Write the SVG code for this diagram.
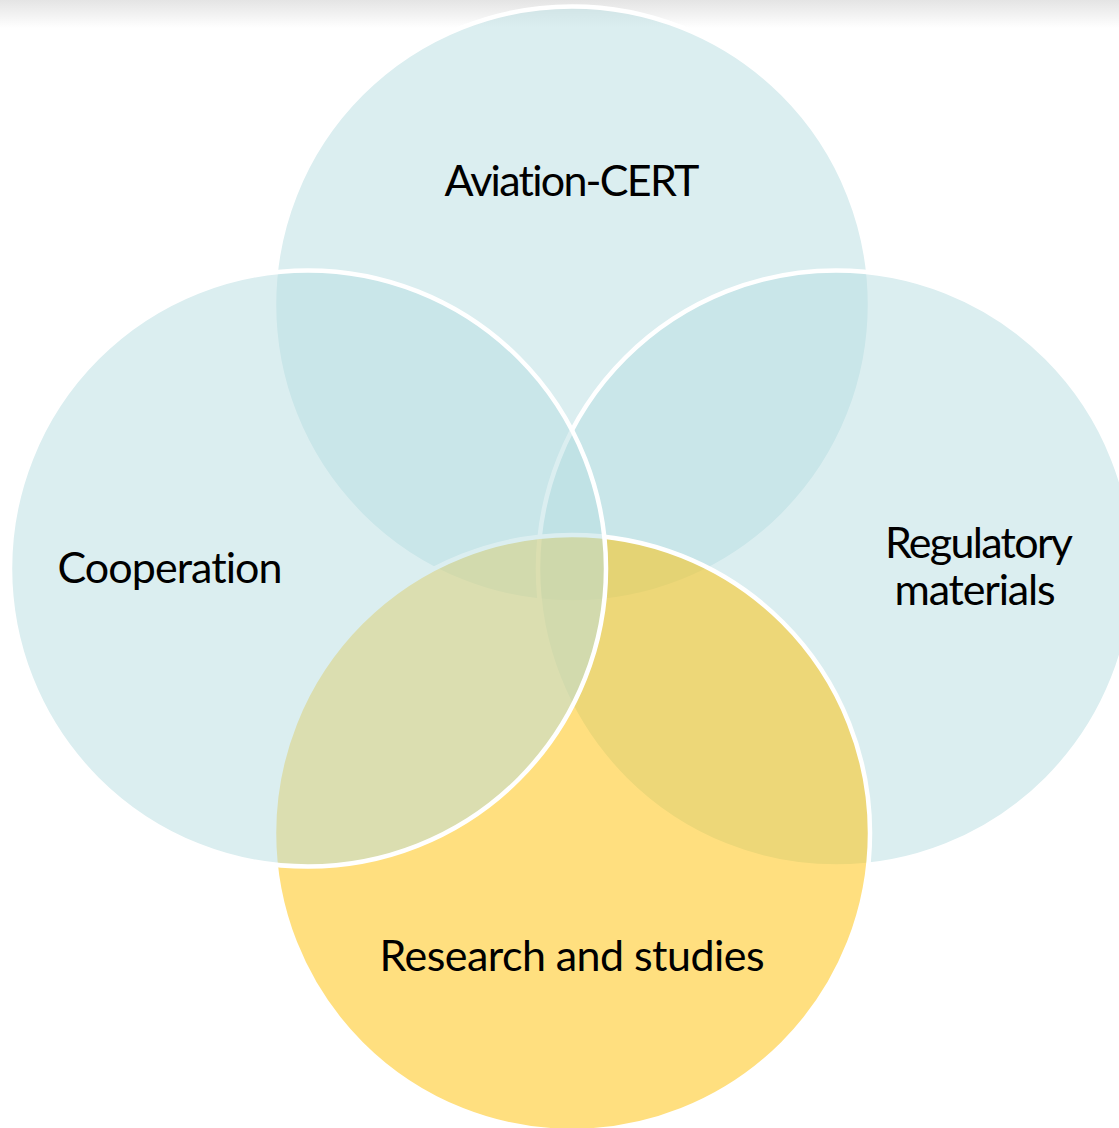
<svg xmlns="http://www.w3.org/2000/svg" width="1119" height="1128" viewBox="0 0 1119 1128">
  <defs>
    <linearGradient id="topShade" x1="0" y1="0" x2="0" y2="1">
      <stop offset="0" stop-color="#e4e4e4"/>
      <stop offset="1" stop-color="#ffffff"/>
    </linearGradient>
    <style>
      .ring { stroke: #ffffff; stroke-width: 4.5; }
      .blue { fill: rgba(184, 221, 226, 0.5); }
      .gold { fill: rgba(255, 192, 0, 0.5); }
      .label { font-family: Lato, "Open Sans", "Liberation Sans", sans-serif; font-size: 43px; fill: #000000; text-anchor: middle; font-variant-ligatures: none; font-feature-settings: "liga" 0, "dlig" 0; }
    </style>
  </defs>

  <rect x="0" y="0" width="1119" height="1128" fill="#ffffff"/>
  <rect x="0" y="0" width="1119" height="28" fill="url(#topShade)"/>

  <!-- Venn circles, back to front -->
  <g id="node-aviation-cert">
    <circle class="ring blue" cx="572" cy="304.5" r="298"/>
    <text class="label" x="572" y="195.5" textLength="255">Aviation-CERT</text>
  </g>

  <g id="node-regulatory">
    <circle class="ring blue" cx="836" cy="568.5" r="298"/>
    <text class="label" x="979" y="558" textLength="188">Regulatory</text>
    <text class="label" x="975" y="605" textLength="161">materials</text>
  </g>

  <g id="node-research">
    <circle class="ring gold" cx="572" cy="833" r="298"/>
    <text class="label" x="572" y="971" textLength="385">Research and studies</text>
  </g>

  <g id="node-cooperation">
    <circle class="ring blue" cx="308" cy="568.5" r="298"/>
    <text class="label" x="170" y="583" textLength="225">Cooperation</text>
  </g>

  <g id="connectors"/>
</svg>
